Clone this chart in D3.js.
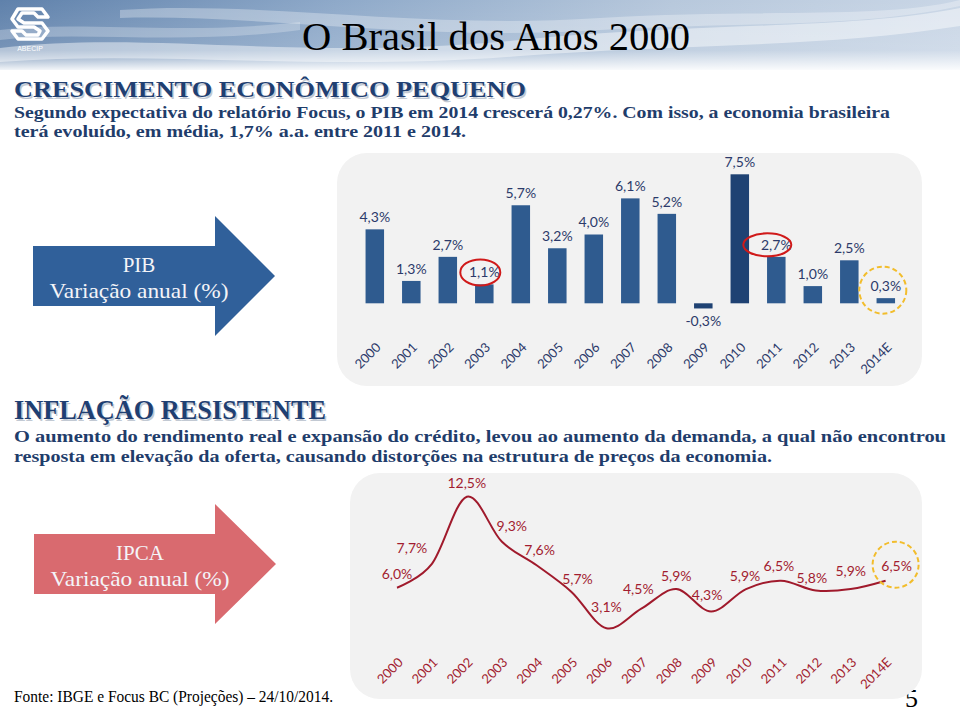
<!DOCTYPE html>
<html><head><meta charset="utf-8">
<script src="https://cdn.jsdelivr.net/npm/d3@7"></script>
<style>html,body{margin:0;padding:0;background:#fff;}svg{display:block;}</style>
</head><body>
<svg id="c" width="960" height="712"></svg>
<script>
// ---------- DATA ----------
const years = ["2000","2001","2002","2003","2004","2005","2006","2007","2008","2009","2010","2011","2012","2013","2014E"];
const pib   = [4.3, 1.3, 2.7, 1.1, 5.7, 3.2, 4.0, 6.1, 5.2, -0.3, 7.5, 2.7, 1.0, 2.5, 0.3];
const ipca  = [6.0, 7.7, 12.5, 9.3, 7.6, 5.7, 3.1, 4.5, 5.9, 4.3, 5.9, 6.5, 5.8, 5.9, 6.5];
const pibHighlight = ["2003","2011"];   // red ellipses
const estimateYear = "2014E";          // yellow dashed circle

// ---------- LAYOUT (not data) ----------
const ipcaNudge = [[0,-14],[-20,-16],[0,-14],[10,-15],[3,-15],[6,-13],[0,-21],[-3,-20],[0,-13],[-4,-16],[-1,-13],[-2,-15],[-4,-12],[0,-18],[11,-15]];

const SERIF = "'Liberation Serif', 'Times New Roman', serif";
const svg = d3.select("#c");
const defs = svg.append("defs");
const loc = d3.formatLocale({decimal:",", thousands:".", grouping:[3], currency:["R$",""], minus:"-"});
const fmt = v => loc.format(".1f")(v) + "%";

// ---------- HEADER BACKGROUND ----------
const gH = defs.append("linearGradient").attr("id","hdr").attr("x1",0).attr("x2",1).attr("y1",0).attr("y2",0);
gH.append("stop").attr("offset","0").attr("stop-color","#5f81ab");
gH.append("stop").attr("offset","0.35").attr("stop-color","#8ea9c9");
gH.append("stop").attr("offset","0.7").attr("stop-color","#b7c8dc");
gH.append("stop").attr("offset","1").attr("stop-color","#c9d6e6");
const gF = defs.append("linearGradient").attr("id","fade").attr("x1",0).attr("x2",0).attr("y1",0).attr("y2",1);
gF.append("stop").attr("offset","0").attr("stop-color","#fff").attr("stop-opacity",0);
gF.append("stop").attr("offset","0.7").attr("stop-color","#fff").attr("stop-opacity",0.15);
gF.append("stop").attr("offset","1").attr("stop-color","#fff").attr("stop-opacity",1);
svg.append("rect").attr("x",0).attr("y",0).attr("width",960).attr("height",70).attr("fill","url(#hdr)");
svg.append("path").attr("d","M0,48 C150,30 300,62 520,40 C700,22 850,30 960,8 L960,26 C820,48 680,44 520,56 C320,72 160,50 0,62 Z").attr("fill","#ffffff").attr("opacity",0.45);
svg.append("path").attr("d","M120,10 C260,0 420,30 600,18 C760,8 880,20 960,0 L960,6 C860,28 740,22 600,30 C420,42 260,14 120,18 Z").attr("fill","#ffffff").attr("opacity",0.3);
svg.append("path").attr("d","M0,30 C80,20 180,36 300,22 L300,30 C180,46 80,30 0,40 Z").attr("fill","#ffffff").attr("opacity",0.25);
svg.append("rect").attr("x",0).attr("y",0).attr("width",960).attr("height",72).attr("fill","url(#fade)");

// logo
const lg = svg.append("g").attr("transform","translate(12,5)").attr("fill","none").attr("stroke","#fff").attr("stroke-width",3.5).attr("stroke-linejoin","round");
lg.append("path").attr("d","M6,4 L30,4 L36,12 L26,12 L22,8 L10,8 L6,14 L12,18 L30,18 L36,26 L30,34 L6,34 L0,26 L10,26 L14,30 L26,30 L28,26 L22,22 L6,22 L0,14 Z");
svg.append("text").attr("x",30).attr("y",51).attr("text-anchor","middle").attr("fill","#fff")
  .style("font-family","'Liberation Sans', sans-serif").style("font-size","7px").text("ABECIP");

// title
svg.append("text").attr("x",302).attr("y",50).attr("textLength",388).attr("lengthAdjust","spacingAndGlyphs")
  .style("font-family",SERIF).style("font-size","40px").attr("fill","#000").text("O Brasil dos Anos 2000");

// ---------- TEXT BLOCKS ----------
const navy = "#1f3d6b";
function txt(x,y,s,size,w,opts={}){
  const t = svg.append("text").attr("x",x).attr("y",y).attr("fill",opts.fill||navy)
    .style("font-family",opts.family||SERIF).style("font-size",size+"px")
    .style("font-weight",opts.weight||"bold").text(s);
  if(w) t.attr("textLength",w).attr("lengthAdjust","spacingAndGlyphs");
  return t;
}
txt(15.5,98.5,"CRESCIMENTO ECONÔMICO PEQUENO",24,512,{fill:"#9aa6b6"}).attr("opacity",0.6);
txt(14,97,"CRESCIMENTO ECONÔMICO PEQUENO",24,512,{fill:"#1f3f72"});
txt(14,118,"Segundo expectativa do relatório Focus, o PIB em 2014 crescerá 0,27%. Com isso, a economia brasileira",17,876);
txt(14,137,"terá evoluído, em média, 1,7% a.a. entre 2011 e 2014.",17,452);

txt(15.5,420.5,"INFLAÇÃO RESISTENTE",28,312,{fill:"#9aa6b6"}).attr("opacity",0.6);
txt(14,419,"INFLAÇÃO RESISTENTE",28,312,{fill:"#1f3f72"});
txt(14,442,"O aumento do rendimento real e expansão do crédito, levou ao aumento da demanda, a qual não encontrou",17,932);
txt(14,462,"resposta em elevação da oferta, causando distorções na estrutura de preços da economia.",17,758);

txt(14,702,"Fonte: IBGE e Focus BC (Projeções) – 24/10/2014.",16,319,{fill:"#000",weight:"normal"});
txt(905,707,"5",26,null,{fill:"#000",weight:"normal"});

// ---------- ARROWS ----------
function arrow(x0,yTop,yBot,xNeck,headTop,headBot,xTip,color){
  const ym=(yTop+yBot)/2;
  svg.append("path").attr("d",`M${x0},${yTop} L${xNeck},${yTop} L${xNeck},${headTop} L${xTip},${ym} L${xNeck},${headBot} L${xNeck},${yBot} L${x0},${yBot} Z`).attr("fill",color);
}
arrow(33,246,306,215,216,336,275,"#30609a");
arrow(34,534,594,215,504,624,276,"#d96a6f");
function arrowText(cx,y1,y2,l1){
  svg.append("text").attr("x",cx).attr("y",y1).attr("text-anchor","middle").attr("fill","#f4f4f8")
    .style("font-family",SERIF).style("font-size","21px").text(l1);
  svg.append("text").attr("x",cx).attr("y",y2).attr("text-anchor","middle").attr("fill","#f4f4f8")
    .attr("textLength",179).attr("lengthAdjust","spacingAndGlyphs")
    .style("font-family",SERIF).style("font-size","21px").text("Variação anual (%)");
}
arrowText(139,272,298,"PIB");
arrowText(140,560,586,"IPCA");

// ---------- PANELS ----------
svg.append("rect").attr("x",337).attr("y",153).attr("width",585).attr("height",233).attr("rx",30).attr("fill","#f2f2f2");
svg.append("rect").attr("x",350).attr("y",473).attr("width",572).attr("height",226).attr("rx",30).attr("fill","#f2f2f2");

// ---------- BAR CHART (PIB) ----------
const xb = d3.scalePoint().domain(years).range([374.8, 885.8]);
const yb = d3.scaleLinear().domain([0, 7.5]).range([303.3, 174.3]);
const bw = 18.5;
const pibData = years.map((y,i)=>({year:y, v:pib[i]}));
svg.append("g").selectAll("rect").data(pibData).join("rect")
  .attr("x",d=>xb(d.year)-bw/2).attr("width",bw)
  .attr("y",d=>yb(Math.max(0,d.v))).attr("height",d=>Math.abs(yb(d.v)-yb(0)))
  .attr("fill",d=>(d.year==="2010"||d.year==="2009")?"#1f4273":"#2f5b8f");
svg.append("g").selectAll("text").data(pibData).join("text")
  .attr("x",d=>xb(d.year)).attr("y",d=>d.v>=0? yb(d.v)-12 : yb(d.v)+13).attr("dy","0.35em")
  .attr("text-anchor","middle").attr("fill","#2c3a6a")
  .style("font-family","Lato").style("font-size","14px").text(d=>fmt(d.v));
pibData.filter(d=>pibHighlight.includes(d.year)).forEach(d=>{
  svg.append("ellipse").attr("cx",xb(d.year)-(d.year==="2003"?4:9)).attr("cy",yb(d.v)-12)
    .attr("rx",d.year==="2003"?20:24).attr("ry",d.year==="2003"?13:11.5)
    .attr("fill","none").attr("stroke","#d01a1a").attr("stroke-width",2);
});
{ const d = pibData.find(p=>p.year===estimateYear);
  svg.append("circle").attr("cx",xb(d.year)-3).attr("cy",yb(d.v)-8).attr("r",23.5)
    .attr("fill","none").attr("stroke","#f2bd2c").attr("stroke-width",2).attr("stroke-dasharray","5,3"); }
const axB = svg.append("g").attr("transform","translate(3,345)").call(d3.axisBottom(xb).tickSize(0).tickPadding(0));
axB.select(".domain").remove();
axB.selectAll("text").attr("y",0).attr("dy","0.35em").attr("transform","rotate(-45)").attr("text-anchor","end")
  .attr("fill","#2c3a6a").style("font-family","Lato").style("font-size","13px");

// ---------- LINE CHART (IPCA) ----------
const xl = d3.scalePoint().domain(years).range([397, 885.6]);
const yl = d3.scaleLinear().domain([0, 12.5]).range([671.7, 496.7]);
const ipcaData = years.map((y,i)=>({year:y, v:ipca[i], n:ipcaNudge[i]}));
svg.append("path").datum(ipcaData)
  .attr("d", d3.line().x(d=>xl(d.year)).y(d=>yl(d.v)).curve(d3.curveCatmullRom.alpha(0)))
  .attr("fill","none").attr("stroke","#a01a2c").attr("stroke-width",2);
svg.append("g").selectAll("text").data(ipcaData).join("text")
  .attr("x",d=>xl(d.year)+d.n[0]).attr("y",d=>yl(d.v)+d.n[1]).attr("dy","0.35em")
  .attr("text-anchor","middle").attr("fill","#a21d30")
  .style("font-family","Lato").style("font-size","14px").text(d=>fmt(d.v));
{ const d = ipcaData.find(p=>p.year===estimateYear);
  svg.append("circle").attr("cx",xl(d.year)+d.n[0]-1).attr("cy",yl(d.v)+d.n[1]-1).attr("r",23)
    .attr("fill","none").attr("stroke","#f2bd2c").attr("stroke-width",2).attr("stroke-dasharray","5,3"); }
const axL = svg.append("g").attr("transform","translate(3,660)").call(d3.axisBottom(xl).tickSize(0).tickPadding(0));
axL.select(".domain").remove();
axL.selectAll("text").attr("y",0).attr("dy","0.35em").attr("transform","rotate(-45)").attr("text-anchor","end")
  .attr("fill","#a21d30").style("font-family","Lato").style("font-size","13px");
</script>
</body></html>
